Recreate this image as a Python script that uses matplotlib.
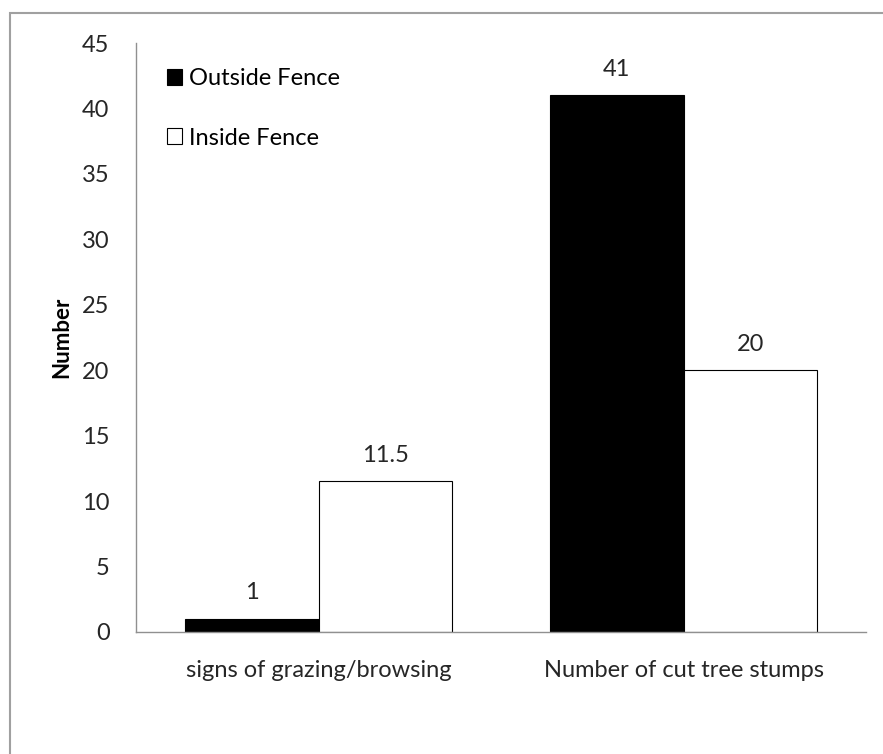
import matplotlib

matplotlib.use("Agg")
import matplotlib.pyplot as plt
import numpy as np
from matplotlib.patches import Rectangle

categories = ["signs of grazing/browsing", "Number of cut tree stumps"]
outside_fence = [1, 41]
inside_fence = [11.5, 20]
value_labels_out = ["1", "41"]
value_labels_in = ["11.5", "20"]

plt.rcParams["font.family"] = ["Lato", "DejaVu Sans"]
TXT = "#262626"

fig = plt.figure(figsize=(8.83, 7.54), dpi=100)
# outer chart frame (right and bottom edges fall outside the picture)
fig.patches.append(
    Rectangle((10 / 883, -0.05), 1.2, 1 - 13 / 754 + 0.05, transform=fig.transFigure,
              fill=False, edgecolor="#a0a0a0", linewidth=1.5)
)

ax = fig.add_axes([136 / 883, 1 - 632 / 754, 730 / 883, 589 / 754])
x = np.arange(len(categories))
w = 0.365
ax.bar(x - w / 2, outside_fence, w, color="black", edgecolor="black", linewidth=0.8,
       label="Outside Fence")
ax.bar(x + w / 2, inside_fence, w, color="white", edgecolor="black", linewidth=0.8,
       label="Inside Fence")

for xi, v, s in zip(x - w / 2, outside_fence, value_labels_out):
    ax.text(xi, v + 2.0, s, ha="center", va="center", fontsize=17, color=TXT)
for xi, v, s in zip(x + w / 2, inside_fence, value_labels_in):
    ax.text(xi, v + 2.0, s, ha="center", va="center", fontsize=17, color=TXT)

ax.set_xlim(-0.5, 1.5)
ax.set_ylim(0, 45)
ax.set_yticks(np.arange(0, 46, 5))
ax.set_xticks(x)
ax.set_xticklabels(categories)
ax.tick_params(axis="both", length=0, labelsize=17, colors=TXT)
ax.tick_params(axis="y", pad=19)
ax.tick_params(axis="x", pad=20)
for side in ("top", "right"):
    ax.spines[side].set_visible(False)
for side in ("left", "bottom"):
    ax.spines[side].set_color("#909090")
    ax.spines[side].set_linewidth(1)

ax.set_ylabel("Number", fontsize=16, fontweight="bold", labelpad=7, color="black")

ax.legend(loc="upper left", bbox_to_anchor=(0.042, 0.957), borderaxespad=0, frameon=False,
          fontsize=17, handlelength=0.65, handleheight=0.65, handletextpad=0.3,
          labelspacing=1.62, borderpad=0)

fig.savefig("out.png", dpi=100)
